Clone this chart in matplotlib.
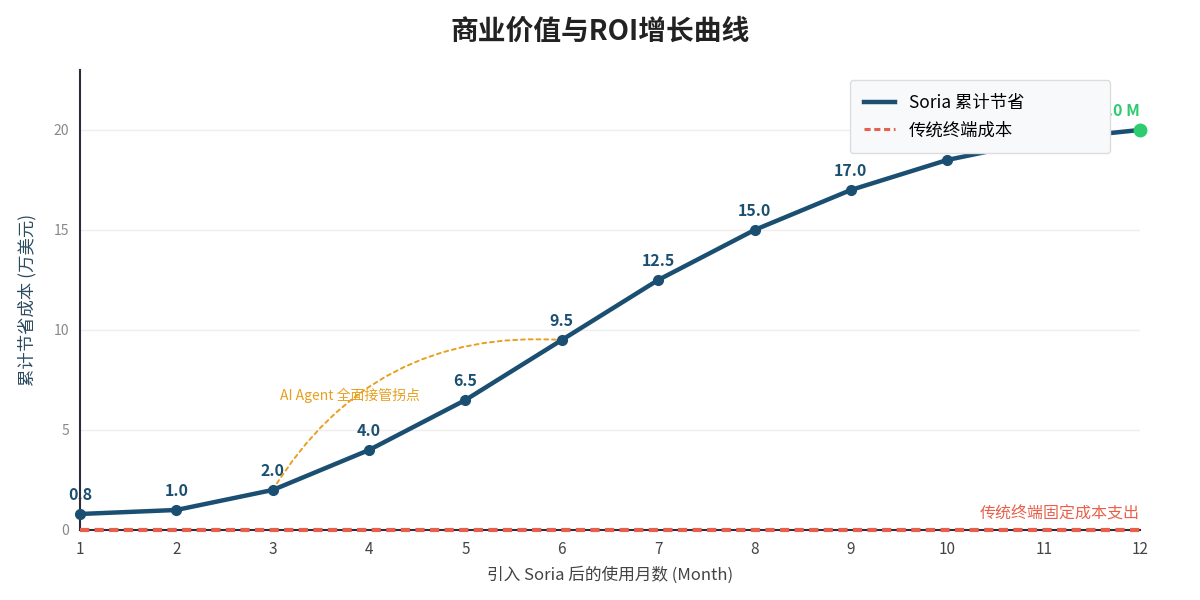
import matplotlib.pyplot as plt
from matplotlib.lines import Line2D

plt.rcParams['font.family'] = ['Noto Sans CJK SC', 'DejaVu Sans']

months = [1, 2, 3, 4, 5, 6, 7, 8, 9, 10, 11, 12]
savings = [0.8, 1.0, 2.0, 4.0, 6.5, 9.5, 12.5, 15.0, 17.0, 18.5, 19.5, 20.0]
label_months = [1, 2, 3, 4, 5, 6, 7, 8, 9, 10]
legacy_cost = [0] * len(months)

blue = '#1b4f72'
red = '#e8604c'
green = '#2ecc71'
orange = '#e8a020'

fig, ax = plt.subplots(figsize=(12, 6), dpi=100)
fig.subplots_adjust(left=0.0667, right=0.95, top=0.8834, bottom=0.1167)

ax.plot(months, legacy_cost, color=red, lw=3, ls=(0, (2.2, 1.3)), zorder=5,
        clip_on=False)
ax.plot(months, savings, color=blue, lw=3.2, marker='o', ms=7, zorder=4,
        clip_on=False)
ax.plot(months[-1], savings[-1], 'o', color=green, ms=9, zorder=5, clip_on=False)

for m, v in zip(months, savings):
    if m in label_months:
        ax.annotate(f'{v:.1f}', (m, v), xytext=(0, 8), textcoords='offset points',
                    ha='center', va='bottom', fontsize=11.5, fontweight='bold',
                    color=blue, zorder=2)
ax.annotate(f'{savings[-1]:.1f} M', (months[-1], savings[-1]), xytext=(0, 8),
            textcoords='offset points', ha='right', va='bottom', fontsize=11.5,
            fontweight='bold', color=green, zorder=2)

ax.annotate('', xy=(6, 9.5), xytext=(3, 2.0),
            arrowprops=dict(arrowstyle='-', color=orange, ls=(0, (2, 2)), lw=1.4,
                            connectionstyle='arc3,rad=-0.3', shrinkA=0, shrinkB=0),
            zorder=3)
ax.text(3.8, 6.75, 'AI Agent 全面接管拐点', color=orange, fontsize=10,
        ha='center', va='center')
ax.text(12, 0.35, '传统终端固定成本支出', color=red, fontsize=11.5,
        ha='right', va='bottom')

ax.set_xlim(1, 12)
ax.set_ylim(0, 23)
ax.set_xticks(months)
ax.set_yticks([0, 5, 10, 15, 20])
ax.tick_params(axis='y', length=0, pad=8, labelsize=10, labelcolor='#888888')
ax.tick_params(axis='x', length=0, pad=8, labelsize=11, labelcolor='#444444')
ax.grid(axis='y', color='#eeeeee', lw=1)
ax.set_axisbelow(True)
for s in ['top', 'right']:
    ax.spines[s].set_visible(False)
for s in ['left', 'bottom']:
    ax.spines[s].set_color('#2c2c3c')
    ax.spines[s].set_linewidth(1.5)

ax.set_xlabel('引入 Soria 后的使用月数 (Month)', fontsize=12, color='#444444', labelpad=6)
ax.set_ylabel('累计节省成本 (万美元)', fontsize=12.5, color='#2c4a60', labelpad=12)
fig.suptitle('商业价值与ROI增长曲线', fontsize=20, fontweight='bold', color='#222222', y=0.97)

handles = [Line2D([], [], color=blue, lw=3.2),
           Line2D([], [], color=red, lw=2.2, ls=(0, (2, 1.2)))]
labels = ['Soria 累计节省', '传统终端成本']
leg = ax.legend(handles, labels, loc='upper left', mode='expand',
                bbox_to_anchor=(0.7264, 0.978 - 0.17, 0.2453, 0.17), borderaxespad=0,
                fontsize=12.5, frameon=True, fancybox=True, facecolor='#f8f9fa',
                edgecolor='#dddddd', borderpad=0.8, handlelength=1.8, handletextpad=0.8,
                labelspacing=0.55)
leg.get_frame().set_alpha(1)
leg.set_zorder(10)

fig.savefig('out.png', dpi=100)
